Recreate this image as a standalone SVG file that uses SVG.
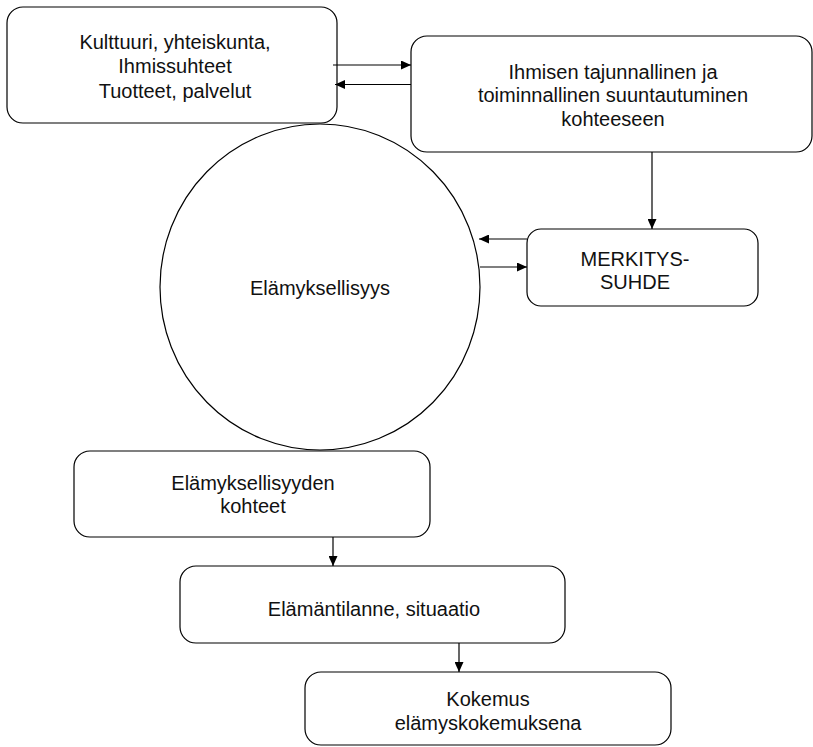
<svg xmlns="http://www.w3.org/2000/svg" width="813" height="747" viewBox="0 0 813 747">
<style>
.box{fill:#fff;stroke:#000;stroke-width:1.2}
.t{font-family:"Liberation Sans",Arial,sans-serif;font-size:20px;fill:#111;text-anchor:middle}
.c{fill:none;stroke:#000;stroke-width:1.2}
</style>
<defs>
<marker id="ah" markerUnits="userSpaceOnUse" markerWidth="10" markerHeight="9" refX="10" refY="4.5" orient="auto">
<path d="M0,0 L10,4.5 L0,9 z" fill="#000"/>
</marker>
</defs>
<rect width="813" height="747" fill="#fff"/>
<g id="n-elamyksellisyys">
<ellipse class="box" cx="320" cy="287" rx="160" ry="163"/>
<text class="t" x="320" y="295">Elämyksellisyys</text>
</g>
<g id="n-kulttuuri">
<rect class="box" x="7" y="7" width="330" height="116" rx="16"/>
<text class="t" x="175" y="49">Kulttuuri, yhteiskunta,</text>
<text class="t" x="175" y="73">Ihmissuhteet</text>
<text class="t" x="175" y="98">Tuotteet, palvelut</text>
</g>
<g id="n-ihmisen">
<rect class="box" x="411" y="36" width="401" height="116" rx="16"/>
<text class="t" x="613" y="79">Ihmisen tajunnallinen ja</text>
<text class="t" x="613" y="102">toiminnallinen suuntautuminen</text>
<text class="t" x="613" y="126">kohteeseen</text>
</g>
<g id="n-merkityssuhde">
<rect class="box" x="527" y="229" width="231" height="77" rx="14"/>
<text class="t" x="635" y="266">MERKITYS-</text>
<text class="t" x="635" y="289">SUHDE</text>
</g>
<g id="n-kohteet">
<rect class="box" x="74" y="451" width="356" height="86" rx="16"/>
<text class="t" x="253" y="490">Elämyksellisyyden</text>
<text class="t" x="253" y="513">kohteet</text>
</g>
<g id="n-elamantilanne">
<rect class="box" x="180" y="566" width="385" height="77" rx="16"/>
<text class="t" x="374" y="616">Elämäntilanne, situaatio</text>
</g>
<g id="n-kokemus">
<rect class="box" x="305" y="672" width="366" height="73" rx="16"/>
<text class="t" x="488" y="706">Kokemus</text>
<text class="t" x="488" y="730">elämyskokemuksena</text>
</g>
<g id="connectors">
<path class="c" d="M333,65 H411" marker-end="url(#ah)"/>
<path class="c" d="M411,84.5 H335" marker-end="url(#ah)"/>
<path class="c" d="M652,152 V229" marker-end="url(#ah)"/>
<path class="c" d="M527,239 H479" marker-end="url(#ah)"/>
<path class="c" d="M480,267 H527" marker-end="url(#ah)"/>
<path class="c" d="M333,537 V566" marker-end="url(#ah)"/>
<path class="c" d="M459,643 V672" marker-end="url(#ah)"/>
</g>
</svg>
